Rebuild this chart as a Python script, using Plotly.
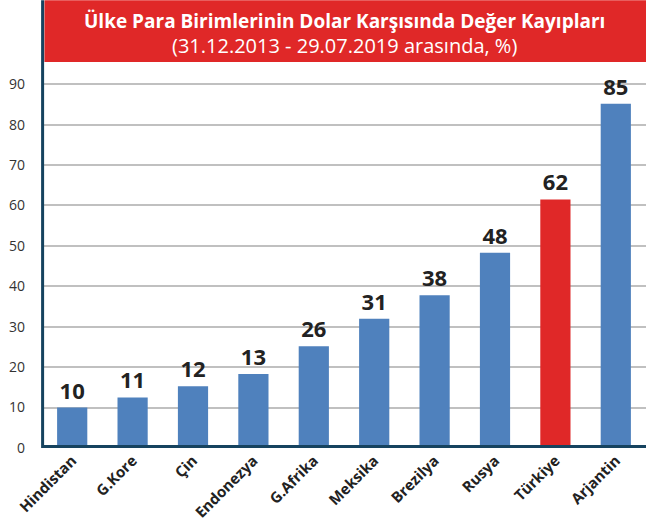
import plotly.graph_objects as go

countries = ["Hindistan", "G.Kore", "Çin", "Endonezya", "G.Afrika", "Meksika", "Brezilya", "Rusya", "Türkiye", "Arjantin"]
bar_values = [10, 12.5, 15.3, 18.3, 25.2, 32, 37.8, 48.3, 61.5, 85.2]
value_labels = ["10", "11", "12", "13", "26", "31", "38", "48", "62", "85"]
highlight = "Türkiye"
y_ticks = [0, 10, 20, 30, 40, 50, 60, 70, 80, 90]

BLUE = "#4f81bd"
RED = "#e02828"
NAVY = "#16435f"

colors = [RED if c == highlight else BLUE for c in countries]

fig = go.Figure()
fig.add_trace(go.Bar(
    x=countries, y=bar_values, marker_color=colors, marker_line_width=0,
    text=value_labels, textposition="outside", cliponaxis=False,
    textfont=dict(family="Open Sans", size=22, color="#222222", weight="bold"),
))

fig.update_layout(
    width=646, height=522,
    margin=dict(l=42, r=0, t=62, b=72),
    paper_bgcolor="white", plot_bgcolor="white",
    bargap=0.5, showlegend=False,
    xaxis=dict(
        tickangle=-45, showgrid=False, ticks="",
        tickfont=dict(family="Open Sans", size=15, color="#222222", weight="bold"),
        showline=False, range=[-0.5, 9.5],
    ),
    yaxis=dict(
        range=[0, 95.5], tickvals=y_ticks, showgrid=True, gridcolor="#c0c0c0", gridwidth=1.5,
        tickfont=dict(family="Open Sans", size=14, color="#333333"),
        zeroline=False, showline=False, ticks="", ticklabelstandoff=16,
    ),
    shapes=[
        dict(type="rect", xref="paper", yref="paper", x0=0.004, x1=1, y0=1, y1=1 + 62 / 388,
             fillcolor=RED, line_width=0, layer="above"),
        dict(type="line", xref="paper", yref="paper", x0=0.001, x1=0.001, y0=0, y1=1 + 62 / 388,
             line=dict(color=NAVY, width=3), layer="above"),
        dict(type="line", xref="paper", yref="paper", x0=0, x1=1, y0=0.004, y1=0.004,
             line=dict(color=NAVY, width=3), layer="above"),
    ],
    annotations=[
        dict(xref="paper", yref="paper", x=0.5, y=1 + 41 / 388, xanchor="center", yanchor="middle",
             text="<b>Ülke Para Birimlerinin Dolar Karşısında Değer Kayıpları</b>", showarrow=False,
             font=dict(family="Open Sans", size=19, color="white")),
        dict(xref="paper", yref="paper", x=0.5, y=1 + 17 / 388, xanchor="center", yanchor="middle",
             text="(31.12.2013 - 29.07.2019 arasında, %)", showarrow=False,
             font=dict(family="Open Sans", size=20, color="white")),
    ],
)

fig.write_html("out.html", config={"displayModeBar": False},
               post_script="document.body.style.margin='0';document.body.style.overflow='hidden';")
